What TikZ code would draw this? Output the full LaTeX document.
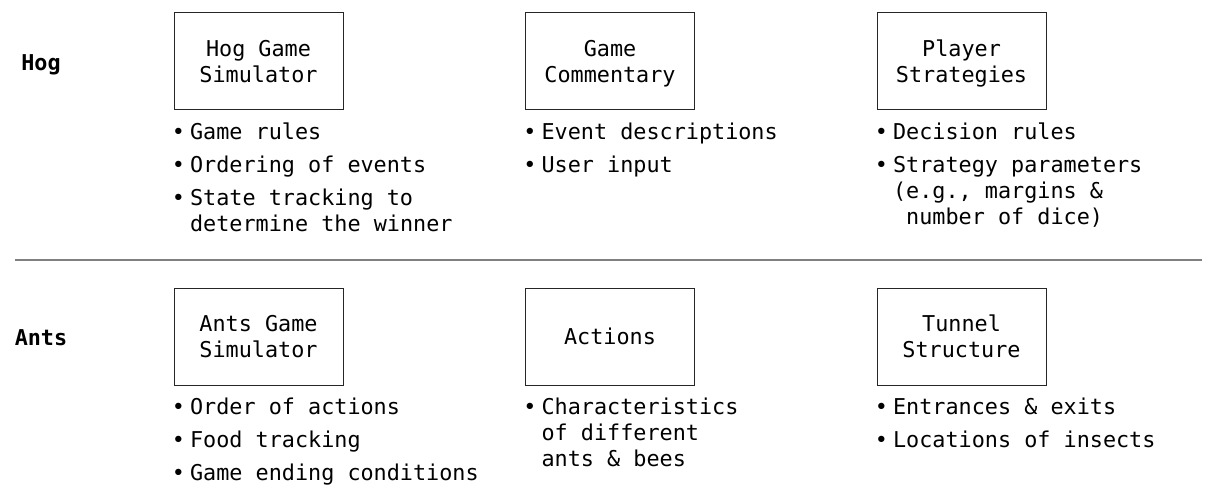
\documentclass[tikz,border=0pt]{standalone}
\usepackage{fontspec}
\setmonofont{DejaVu Sans Mono}
\usetikzlibrary{positioning}

\begin{document}
\begin{tikzpicture}[
  x=0.5pt, y=-0.5pt,
  every node/.style={font=\ttfamily\fontsize{10.9}{13}\selectfont},
  part/.style={draw=black!85, line width=0.5pt, minimum width=84.5pt,
               minimum height=48.5pt, align=center, inner sep=2pt,
               text depth=-0.2pt},
  notes/.style={inner sep=0pt, anchor=north west},
  game/.style={font=\ttfamily\bfseries\fontsize{10.9}{13}\selectfont},
]
\useasboundingbox (0, 0) rectangle (1216, 492);
\node[game] (hog)  at (41, 65)  {Hog};
\node[game] (ants) at (41, 338) {Ants};
\node[part] (hogsim)  at (258.5, 61.5) {Hog Game\\Simulator};
\node[part] (comment) at (610, 61.5)   {Game\\Commentary};
\node[part] (players) at (961.5, 61.5) {Player\\Strategies};
\node[part] (antsim)  at (258.5, 336.5) {Ants Game\\Simulator};
\node[part] (actions) at (610, 336.5)   {Actions};
\node[part] (tunnel)  at (961.5, 336.5) {Tunnel\\Structure};
\node[notes, below right=5pt and -1pt of hogsim.south west]
  (hognotes) {\begin{tabular}{@{}l@{\hspace{2.5pt}}l@{}}
  •&Game rules\\[3.5pt]
  •&Ordering of events\\[3.5pt]
  •&State tracking to\\
   &determine the winner
  \end{tabular}};
\node[notes, below right=5pt and -1pt of comment.south west]
  (commentnotes) {\begin{tabular}{@{}l@{\hspace{2.5pt}}l@{}}
  •&Event descriptions\\[3.5pt]
  •&User input
  \end{tabular}};
\node[notes, below right=5pt and -1pt of players.south west]
  (playernotes) {\begin{tabular}{@{}l@{\hspace{2.5pt}}l@{}}
  •&Decision rules\\[3.5pt]
  •&Strategy parameters\\
   &(e.g., margins \&\\
   &\phantom{(}number of dice)
  \end{tabular}};
\node[notes, below right=5pt and -1pt of antsim.south west]
  (antnotes) {\begin{tabular}{@{}l@{\hspace{2.5pt}}l@{}}
  •&Order of actions\\[3.5pt]
  •&Food tracking\\[3.5pt]
  •&Game ending conditions
  \end{tabular}};
\node[notes, below right=5pt and -1pt of actions.south west]
  (actionnotes) {\begin{tabular}{@{}l@{\hspace{2.5pt}}l@{}}
  •&Characteristics\\
   &of different\\
   &ants \& bees
  \end{tabular}};
\node[notes, below right=5pt and -1pt of tunnel.south west]
  (tunnelnotes) {\begin{tabular}{@{}l@{\hspace{2.5pt}}l@{}}
  •&Entrances \& exits\\[3.5pt]
  •&Locations of insects
  \end{tabular}};
\coordinate (split west) at (15, 260);
\coordinate (split east) at (1202, 260);
\draw[gray, line width=0.7pt] (split west) -- (split east);
\end{tikzpicture}
\end{document}
